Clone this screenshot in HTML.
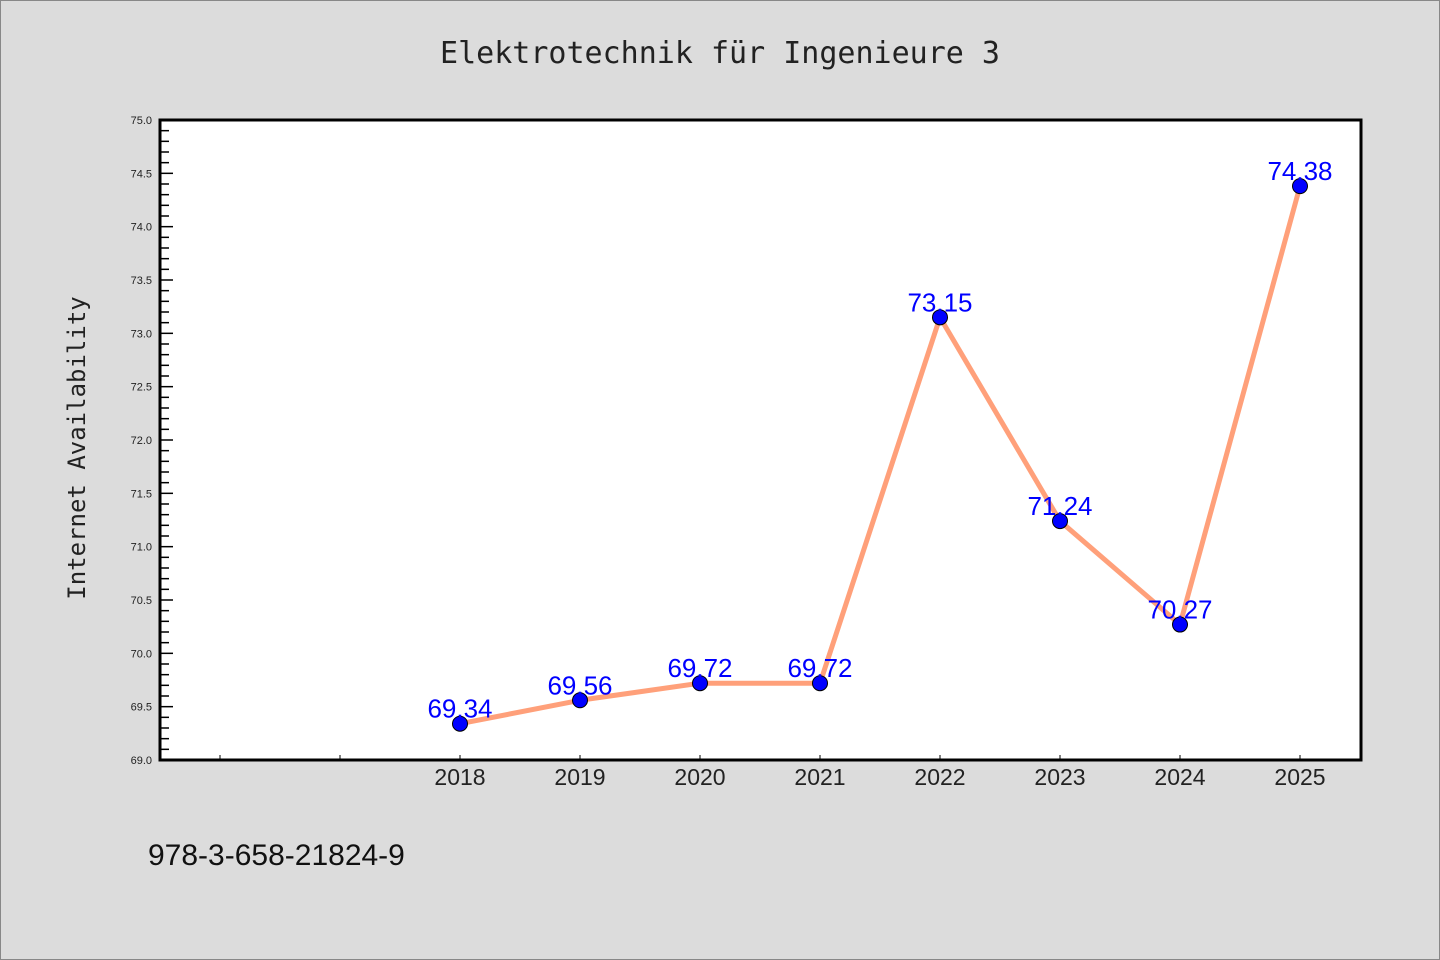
<!DOCTYPE html>
<html><head><meta charset="utf-8"><style>
html,body{margin:0;padding:0;background:#dcdcdc;}
svg{display:block;}
</style></head><body>
<svg id="chart" width="1440" height="960" xmlns="http://www.w3.org/2000/svg" font-family="'Liberation Sans','DejaVu Sans',sans-serif">
<rect x="0.5" y="0.5" width="1439" height="959" fill="#dcdcdc" stroke="#888"/>
<text x="720" y="63" text-anchor="middle" font-size="30" fill="#222" font-family="'DejaVu Sans Mono','Liberation Mono',monospace">Elektrotechnik für Ingenieure 3</text>
<rect x="160" y="120" width="1201" height="640" fill="#fff"/>
<g id="axes"></g>
<g id="series"></g>
<rect x="160" y="120" width="1201" height="640" fill="none" stroke="#000" stroke-width="3"/>
<text transform="translate(85,448) rotate(-90)" text-anchor="middle" font-size="24" fill="#222" font-family="'DejaVu Sans Mono','Liberation Mono',monospace">Internet Availability</text>
<text x="148" y="865" font-size="30" fill="#111">978-3-658-21824-9</text>
</svg>
<script>
const categories = [2018, 2019, 2020, 2021, 2022, 2023, 2024, 2025];
const values = [69.34, 69.56, 69.72, 69.72, 73.15, 71.24, 70.27, 74.38];
const valueLabels = ["69.34","69.56","69.72","69.72","73.15","71.24","70.27","74.38"];
const yMin = 69.0, yMax = 75.0;
const xMinYear = 2015.5, xMaxYear = 2025.5;

const NS = "http://www.w3.org/2000/svg";
const L = 160, R = 1360, T = 120, B = 760;
function xs(v){ return L + (v - xMinYear) / (xMaxYear - xMinYear) * (R - L); }
function ys(v){ return B - (v - yMin) / (yMax - yMin) * (B - T); }
function mk(tag, attrs, parent){ const e = document.createElementNS(NS, tag); for (const k in attrs) e.setAttribute(k, attrs[k]); parent.appendChild(e); return e; }

const axes = document.getElementById('axes');
// y ticks
for (let i = 0; i <= Math.round((yMax - yMin) * 10); i++) {
  const v = yMin + i * 0.1, y = ys(v), major = i % 5 === 0;
  const t = mk('line', {x1: L, x2: L + (major ? 13 : 9), y1: y, y2: y, stroke: '#000', 'stroke-width': 1.5}, axes);
  
  
  if (major) {
    const tx = mk('text', {x: 152, y: y + 4, 'text-anchor': 'end', 'font-size': 11, fill: '#222'}, axes);
    
    
    tx.textContent = v.toFixed(1);
  }
}
// x ticks
for (let yr = 2016; yr <= 2025; yr++) {
  const x = xs(yr);
  const t = mk('line', {x1: x, x2: x, y1: B, y2: B - 5, stroke: '#000', 'stroke-width': 1}, axes);
  
  
}
categories.forEach(c => {
  const tx = mk('text', {x: xs(c), y: 785, 'text-anchor': 'middle', 'font-size': 23, fill: '#222'}, axes);
  
  
  tx.textContent = c;
});

const series = document.getElementById('series');
const pts = categories.map((c, i) => xs(c) + ',' + ys(values[i])).join(' ');
const line = mk('polyline', {points: pts, fill: 'none', stroke: '#ffa07a', 'stroke-width': 5, 'stroke-linejoin': 'round'}, series);


categories.forEach((c, i) => {
  const p = mk('circle', {cx: xs(c), cy: ys(values[i]), r: 7.5, fill: '#0000ff', stroke: '#000', 'stroke-width': 1}, series);
  
  
  const t = mk('text', {x: xs(c), y: ys(values[i]) - 6, 'text-anchor': 'middle', 'font-size': 26, fill: '#0000ff'}, series);
  
  
  t.textContent = valueLabels[i];
});
</script>
</body></html>
